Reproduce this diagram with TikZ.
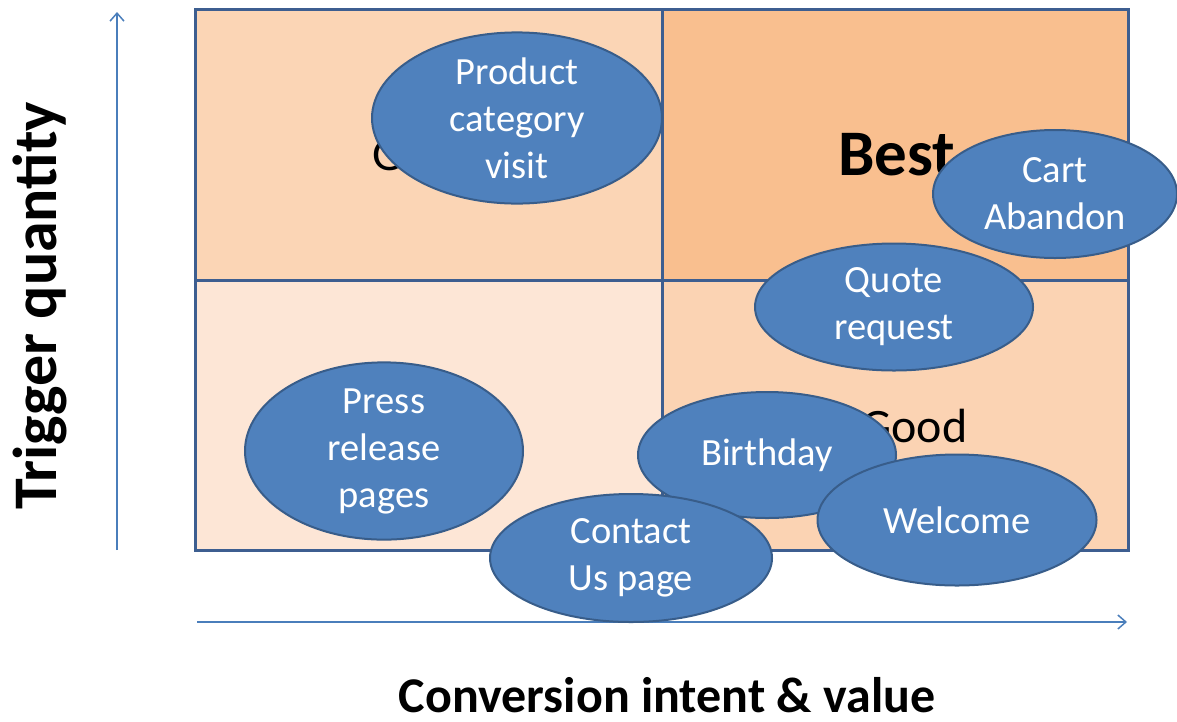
\documentclass[tikz,border=0pt]{standalone}
\usepackage{fontspec}
\setmainfont{Carlito}
\usetikzlibrary{shapes.geometric,arrows.meta}
\definecolor{cellTL}{HTML}{FBD5B5}
\definecolor{cellTR}{HTML}{F9BF8F}
\definecolor{cellBL}{HTML}{FDE6D6}
\definecolor{cellBR}{HTML}{FBD3B3}
\definecolor{gridline}{HTML}{3D5E90}
\definecolor{ovalfill}{HTML}{4F81BD}
\definecolor{ovaldraw}{HTML}{385D8A}
\definecolor{axiscol}{HTML}{4A7EBB}
\tikzset{
  cellbox/.style={draw=gridline, line width=3pt},
  oval/.style={ellipse, draw=ovaldraw, line width=2pt, fill=ovalfill, text=white,
    inner sep=0pt, align=center, font=\fontsize{38.5}{47}\selectfont},
  axisarrow/.style={draw=axiscol, line width=1.5pt, -{Straight Barb[length=8pt,width=14pt,line width=1.5pt]}},
  celllabel/.style={inner sep=0pt, anchor=base west, font=\fontsize{48}{56}\selectfont},
}
\begin{document}
\begin{tikzpicture}[x=1pt,y=-1pt]
\useasboundingbox (0,0) rectangle (1177,721);
% cells
\draw[cellbox, fill=cellTL] (195,9) rectangle (662,280);
\draw[cellbox, fill=cellTR] (662,9) rectangle (1128,280);
\draw[cellbox, fill=cellBL] (195,280) rectangle (662,550);
\draw[cellbox, fill=cellBR] (662,280) rectangle (1128,550);
% cell labels
\node[celllabel] (lgood1) at (372,170) {Good};
\node[celllabel, font=\fontsize{65}{70}\selectfont\bfseries] (lbest) at (838,175) {Best};
\node[celllabel] (lgood2) at (861,442) {Good};
% axes
\coordinate (ya0) at (117,550);
\coordinate (ya1) at (117,12);
\coordinate (xa0) at (197,622);
\coordinate (xa1) at (1127,622);
\draw[axisarrow] (ya0) -- (ya1);
\draw[axisarrow] (xa0) -- (xa1);
\node[rotate=90, anchor=base, inner sep=0pt, font=\fontsize{62}{70}\selectfont\bfseries] (ylab) at (56,306) {Trigger quantity};
\node[anchor=base, inner sep=0pt, font=\fontsize{50}{60}\selectfont\bfseries] (xlab) at (667,712) {Conversion intent \& value};
% ovals
\node[oval, minimum width=290pt, minimum height=142pt] (prod) at (517,118) {Product\\category\\visit};
\node[oval, minimum width=244pt, minimum height=128pt] (cart) at (1055,194) {Cart\\Abandon};
\node[oval, minimum width=278pt, minimum height=127pt] (quote) at (894,307) {Quote\\request};
\node[oval, minimum width=278pt, minimum height=132pt] (press) at (384,451) {Press\\release\\pages};
\node[oval, minimum width=258pt, minimum height=126pt] (bday) at (767,455) {Birthday};
\node[oval, minimum width=282pt, minimum height=128pt] (contact) at (631,558) {Contact\\Us page};
\node[oval, minimum width=279pt, minimum height=131pt] (welcome) at (957,520) {Welcome};
\end{tikzpicture}
\end{document}
